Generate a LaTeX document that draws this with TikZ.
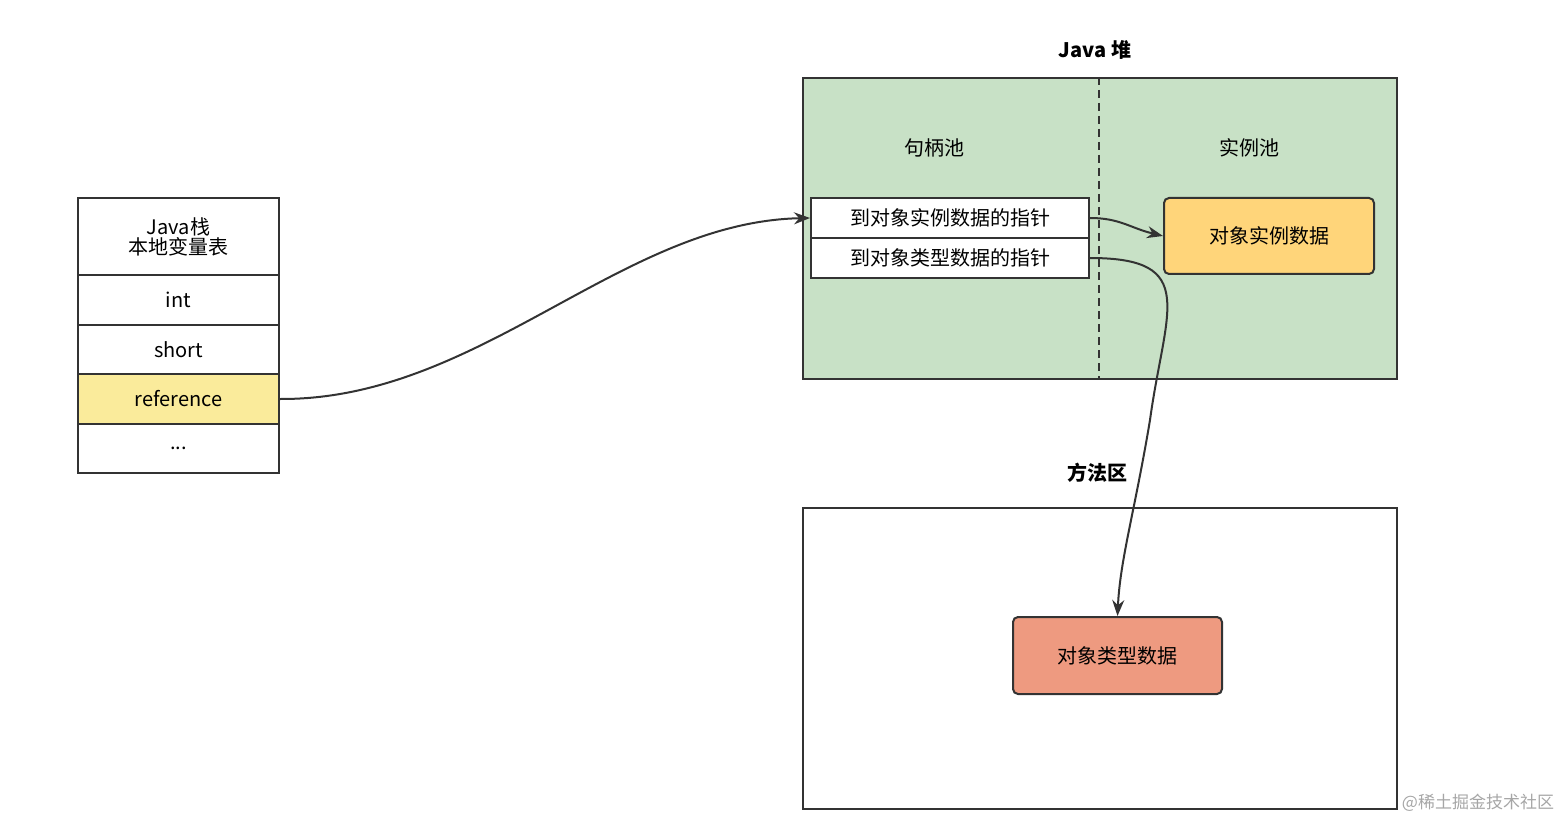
\documentclass[tikz,border=0pt]{standalone}
\usepackage{fontspec}
\setmainfont{Noto Sans CJK SC}
\usetikzlibrary{arrows.meta}
\definecolor{heap}{HTML}{C8E1C6}
\definecolor{refy}{HTML}{FAEB9B}
\definecolor{inst}{HTML}{FFD57A}
\definecolor{typ}{HTML}{EE9A80}
\definecolor{edge}{HTML}{333333}
\begin{document}
\begin{tikzpicture}[x=1pt,y=-1pt,
  cell/.style={draw=edge,line width=2pt,minimum width=201pt,inner sep=0pt,font=\fontsize{20}{24}\selectfont,anchor=north west},
  ptr/.style={draw=edge,line width=2pt,fill=white,minimum width=278pt,minimum height=40pt,inner sep=0pt,font=\fontsize{20}{24}\selectfont,anchor=north west},
  obj/.style={draw=edge,line width=2pt,rounded corners=5pt,minimum width=210pt,minimum height=76pt,inner sep=0pt,font=\fontsize{20}{24}\selectfont,anchor=north west},
  lbl/.style={font=\fontsize{20}{24}\selectfont},
  ttl/.style={font=\fontsize{20}{24}\selectfont\bfseries},
  conn/.style={draw=edge,line width=2pt,-{Stealth[length=16pt,width=12pt]}}]
\useasboundingbox (0,0) rectangle (1564,821);
% stack
\node[cell,minimum height=77pt,align=center] (s0) at (77,197) {Java栈\\[-4pt]本地变量表};
\node[cell,minimum height=50pt] (s1) at (77,274) {int};
\node[cell,minimum height=49pt] (s2) at (77,324) {short};
\node[cell,minimum height=50pt,fill=refy] (s3) at (77,373) {reference};
\node[cell,minimum height=49pt] (s4) at (77,423) {...};
% heap
\node[draw=edge,line width=2pt,fill=heap,minimum width=594pt,minimum height=301pt,inner sep=0pt,anchor=north west] (heap) at (802,77) {};
\coordinate (dtop) at (1099,77); \coordinate (dbot) at (1099,378);
\draw[edge,line width=2pt,dash pattern=on 8pt off 5pt] (dtop) -- (dbot);
\node[ttl] (ht) at (1095,50) {Java 堆};
\node[lbl] (hp) at (934,148) {句柄池};
\node[lbl] (ip) at (1249,148) {实例池};
\node[ptr] (p1) at (810,197) {到对象实例数据的指针};
\node[ptr] (p2) at (810,237) {到对象类型数据的指针};
\node[obj,fill=inst] (oi) at (1163,197) {对象实例数据};
% method area
\node[draw=edge,line width=2pt,fill=white,minimum width=594pt,minimum height=301pt,inner sep=0pt,anchor=north west] (ma) at (802,507) {};
\node[ttl] (mt) at (1097,473) {方法区};
\node[obj,fill=typ,minimum width=209pt,minimum height=77pt] (ot) at (1012,616) {对象类型数据};
% connectors
\draw[conn] (s3.east) .. controls (480,400) and (620,222) .. (p1.west);
\draw[conn] (p1.east) .. controls (1120,218) and (1130,228) .. (oi.west);
\draw[conn] (p2.east) .. controls (1200,258) and (1165,310) .. (1150,420) .. controls (1135,510) and (1120,560) .. (ot.north);
\node[font=\fontsize{17}{20}\selectfont,text=gray!70] (wm) at (1478,803) {@稀土掘金技术社区};
\end{tikzpicture}
\end{document}
